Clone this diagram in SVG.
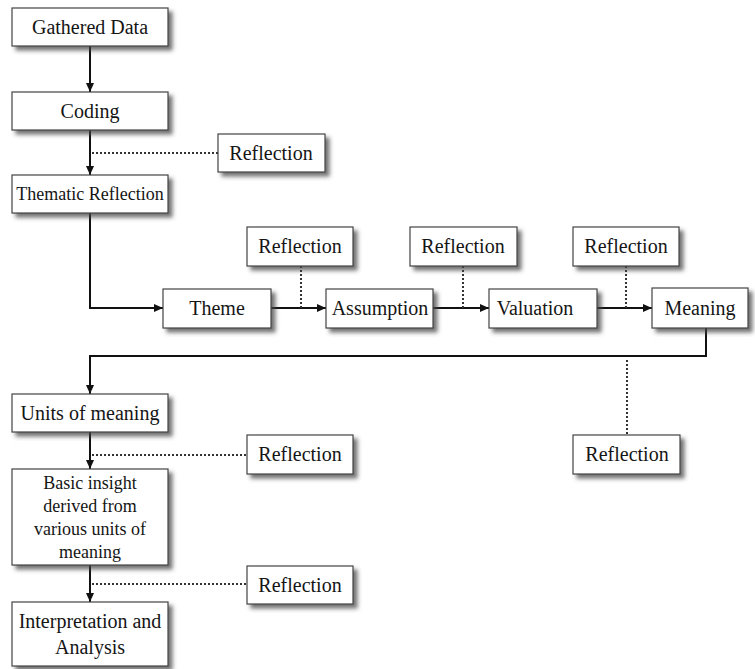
<svg xmlns="http://www.w3.org/2000/svg" width="755" height="669" viewBox="0 0 755 669">
<defs>
<filter id="sh" x="-10%" y="-20%" width="130%" height="160%">
<feDropShadow dx="4" dy="4" stdDeviation="2.2" flood-color="#444" flood-opacity="0.75"/>
</filter>
<marker id="ah" markerWidth="10" markerHeight="10" refX="9" refY="5" orient="auto" markerUnits="userSpaceOnUse">
<path d="M0,1 L9,5 L0,9 Z" fill="#111"/>
</marker>
<style>
.box{fill:#fff;stroke:#444;stroke-width:1.2;filter:url(#sh)}
.t{font-family:"Liberation Serif","Times New Roman",serif;font-size:20px;fill:#151515;text-anchor:middle}
.s{font-size:18px}
.ln{fill:none;stroke:#111;stroke-width:2}
.dt{fill:none;stroke:#333;stroke-width:2;stroke-dasharray:2 2}
</style>
</defs>
<rect width="755" height="669" fill="#fff"/>
<g id="connectors">
<line class="ln" x1="90" y1="46" x2="90" y2="92" marker-end="url(#ah)"/>
<line class="ln" x1="90" y1="130" x2="90" y2="175" marker-end="url(#ah)"/>
<path class="ln" d="M90,213 V308 H163" marker-end="url(#ah)"/>
<line class="ln" x1="271" y1="308" x2="326" y2="308" marker-end="url(#ah)"/>
<line class="ln" x1="433" y1="308" x2="489" y2="308" marker-end="url(#ah)"/>
<line class="ln" x1="597" y1="308" x2="652" y2="308" marker-end="url(#ah)"/>
<path class="ln" d="M706,328 V356 H90 V394" marker-end="url(#ah)"/>
<line class="ln" x1="90" y1="432" x2="90" y2="469" marker-end="url(#ah)"/>
<line class="ln" x1="90" y1="565" x2="90" y2="602" marker-end="url(#ah)"/>
<line class="dt" x1="92" y1="153" x2="218" y2="153"/>
<line class="dt" x1="301" y1="266" x2="301" y2="308"/>
<line class="dt" x1="463" y1="266" x2="463" y2="308"/>
<line class="dt" x1="626" y1="266" x2="626" y2="308"/>
<line class="dt" x1="627" y1="360" x2="627" y2="435"/>
<line class="dt" x1="92" y1="455" x2="247" y2="455"/>
<line class="dt" x1="92" y1="584" x2="247" y2="584"/>
</g>
<g id="gathered"><rect class="box" x="12" y="8" width="156" height="38"/><text class="t" x="90" y="34">Gathered Data</text></g>
<g id="coding"><rect class="box" x="12" y="92" width="156" height="38"/><text class="t" x="90" y="118">Coding</text></g>
<g id="refl1"><rect class="box" x="218" y="134" width="107" height="38"/><text class="t" x="271" y="160">Reflection</text></g>
<g id="thematic"><rect class="box" x="12" y="175" width="156" height="38"/><text class="t s" x="90" y="200">Thematic Reflection</text></g>
<g id="theme"><rect class="box" x="163" y="289" width="108" height="39"/><text class="t" x="217" y="315">Theme</text></g>
<g id="refl2"><rect class="box" x="247" y="227" width="106" height="39"/><text class="t" x="300" y="253">Reflection</text></g>
<g id="assumption"><rect class="box" x="326" y="289" width="107" height="39"/><text class="t" x="380" y="315">Assumption</text></g>
<g id="refl3"><rect class="box" x="410" y="227" width="107" height="39"/><text class="t" x="463" y="253">Reflection</text></g>
<g id="valuation"><rect class="box" x="489" y="289" width="108" height="39"/><text class="t" x="535" y="315">Valuation</text></g>
<g id="refl4"><rect class="box" x="573" y="227" width="106" height="39"/><text class="t" x="626" y="253">Reflection</text></g>
<g id="meaning"><rect class="box" x="652" y="288" width="96" height="40"/><text class="t" x="700" y="315">Meaning</text></g>
<g id="units"><rect class="box" x="12" y="394" width="156" height="38"/><text class="t" x="90" y="420">Units of meaning</text></g>
<g id="refl5"><rect class="box" x="247" y="435" width="106" height="39"/><text class="t" x="300" y="461">Reflection</text></g>
<g id="refl7"><rect class="box" x="573" y="435" width="107" height="39"/><text class="t" x="627" y="461">Reflection</text></g>
<g id="insight"><rect class="box" x="12" y="469" width="156" height="96"/>
<text class="t s" x="90" y="489">Basic insight</text>
<text class="t s" x="90" y="512">derived from</text>
<text class="t s" x="90" y="535">various units of</text>
<text class="t s" x="90" y="558">meaning</text></g>
<g id="refl6"><rect class="box" x="247" y="566" width="106" height="38"/><text class="t" x="300" y="592">Reflection</text></g>
<g id="interp"><rect class="box" x="12" y="602" width="156" height="64"/>
<text class="t" x="90" y="628">Interpretation and</text>
<text class="t" x="90" y="654">Analysis</text></g>
</svg>
